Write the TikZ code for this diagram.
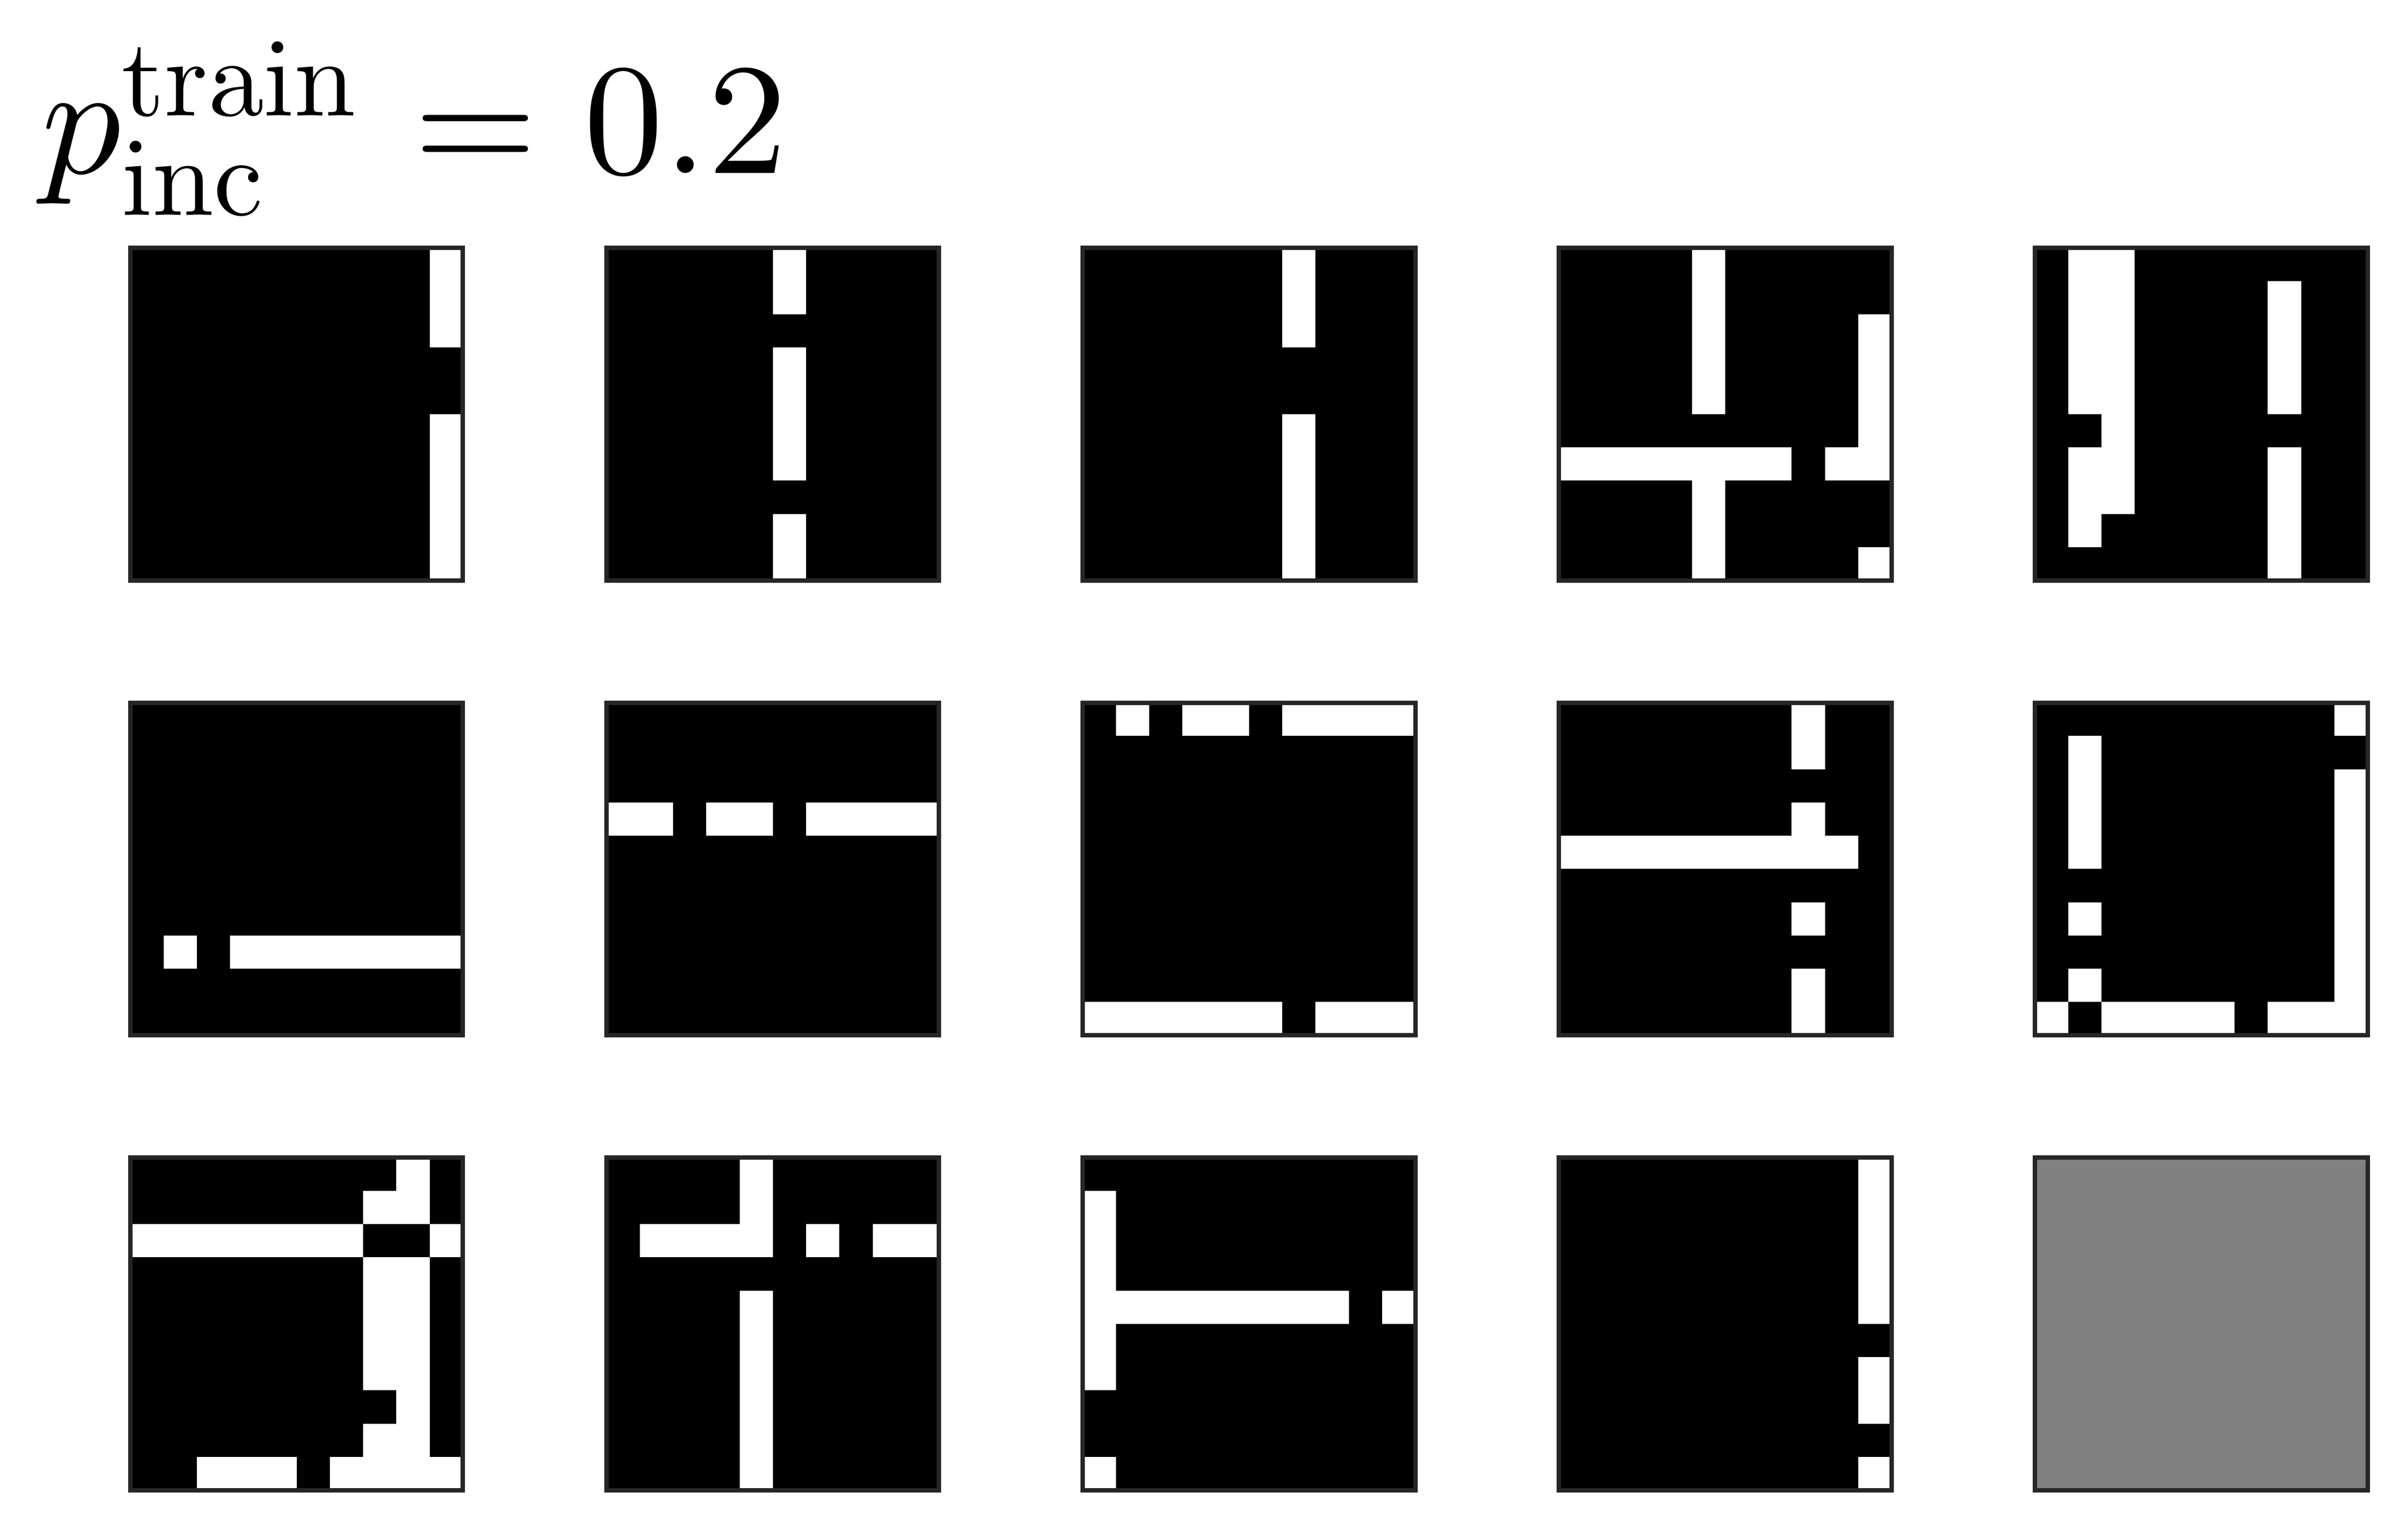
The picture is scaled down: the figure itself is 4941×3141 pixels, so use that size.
\documentclass[tikz,border=0pt]{standalone}
\usepackage{graphicx}
\definecolor{framecol}{RGB}{38,38,38}
\definecolor{graycell}{RGB}{128,128,128}
\tikzset{
  panelbox/.style={fill=black, inner sep=0pt, outer sep=0pt, minimum width=68.25pt, minimum height=68.25pt},
  frame/.style={draw=framecol, line width=0.9pt},
  whitecell/.style={fill=white}
}
\newcommand\drawpanel[4]{%
  \node[panelbox, anchor=north west] (#1) at ({267.5+977*#2},{508.5+933.5*#3}) {};
  \begin{scope}[shift={(#1.north west)}, x=6.825pt, y=-6.825pt]
    \foreach \a/\b/\c/\d in {#4} { \fill[whitecell] (\a,\b) rectangle ({\c+1},{\d+1}); }
  \end{scope}
  \draw[frame] (#1.north west) rectangle (#1.south east);
}
\begin{document}
\begin{tikzpicture}[x=0.1pt, y=-0.1pt]
\useasboundingbox (0,0) rectangle (4941,3141);
\node[anchor=base west, inner sep=0pt] (title) at (84,355)
  {\scalebox{3.25}{$p^{\scalebox{0.7}{$\mathrm{train}$}}_{\scalebox{0.7}{$\mathrm{inc}$}}\kern0.4pt=\kern0.2pt 0.2$}};
% row 1
\drawpanel{pa}{0}{0}{9/0/9/2, 9/5/9/9}
\drawpanel{pb}{1}{0}{5/0/5/1, 5/3/5/6, 5/8/5/9}
\drawpanel{pc}{2}{0}{6/0/6/2, 6/5/6/9}
\drawpanel{pd}{3}{0}{4/0/4/4, 9/2/9/5, 0/6/6/6, 8/6/9/6, 4/7/4/9, 9/9/9/9}
\drawpanel{pe}{4}{0}{1/0/2/4, 2/5/2/5, 1/6/2/7, 1/8/1/8, 7/1/7/4, 7/6/7/9}
% row 2
\drawpanel{pf}{0}{1}{1/7/1/7, 3/7/9/7}
\drawpanel{pg}{1}{1}{0/3/1/3, 3/3/4/3, 6/3/9/3}
\drawpanel{ph}{2}{1}{1/0/1/0, 3/0/4/0, 6/0/9/0, 0/9/5/9, 7/9/9/9}
\drawpanel{pi}{3}{1}{7/0/7/1, 7/3/7/3, 0/4/8/4, 7/6/7/6, 7/8/7/9}
\drawpanel{pj}{4}{1}{9/0/9/0, 9/2/9/9, 1/1/1/4, 1/6/1/6, 1/8/1/8, 0/9/0/9, 2/9/5/9, 7/9/9/9}
% row 3
\drawpanel{pk}{0}{2}{8/0/8/0, 7/1/8/1, 0/2/6/2, 9/2/9/2, 7/3/8/6, 8/7/8/7, 7/8/8/8, 2/9/4/9, 6/9/9/9}
\drawpanel{pl}{1}{2}{4/0/4/2, 1/2/4/2, 6/2/6/2, 8/2/9/2, 4/4/4/9}
\drawpanel{pm}{2}{2}{0/1/0/6, 0/9/0/9, 1/4/7/4, 9/4/9/4}
\drawpanel{pn}{3}{2}{9/0/9/4, 9/6/9/7, 9/9/9/9}
\node[panelbox, fill=graycell, anchor=north west] (po) at ({267.5+977*4},{508.5+933.5*2}) {};
\draw[frame] (po.north west) rectangle (po.south east);
\end{tikzpicture}
\end{document}
